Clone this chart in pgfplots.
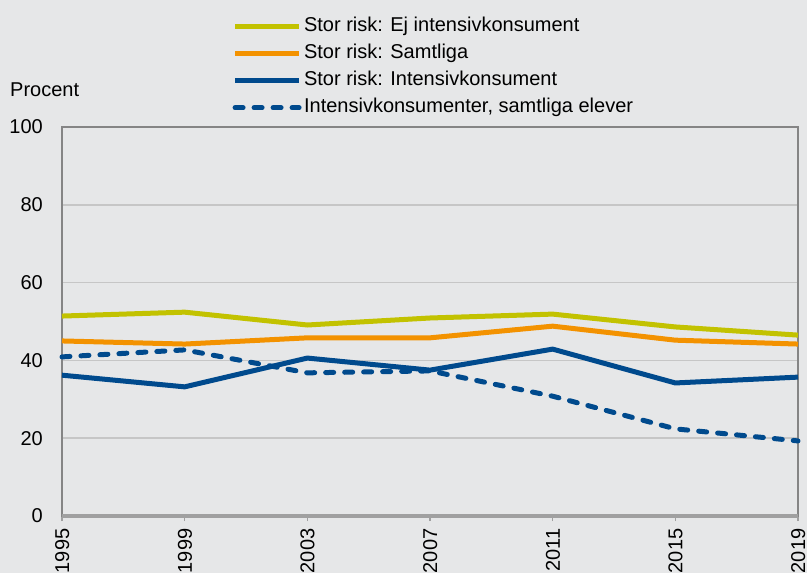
\documentclass[border=0pt]{standalone}
\usepackage{pgfplots}
\pgfplotsset{compat=1.18}
\usepackage{fontspec}
\setmainfont{Liberation Sans}
\definecolor{bg}{HTML}{E6E7E8}
\definecolor{cyel}{HTML}{C2C200}
\definecolor{cora}{HTML}{F39200}
\definecolor{cblu}{HTML}{004A8D}
\definecolor{gridc}{HTML}{C6C6C6}
\definecolor{axl}{HTML}{858585}
\definecolor{botl}{HTML}{A0A0A0}
\begin{document}
\fontsize{20bp}{24bp}\selectfont
\begin{tikzpicture}
\fill[bg] (0bp,0bp) rectangle (807bp,573bp);
\useasboundingbox (0bp,0bp) rectangle (807bp,573bp);
\node[anchor=base west, inner sep=0] at (10bp,476bp) {Procent};
\begin{axis}[
  at={(62bp,57bp)}, anchor=south west,
  scale only axis, width=736bp, height=389bp,
  xmin=1995, xmax=2019, ymin=0, ymax=100,
  xtick={1995,1999,2003,2007,2011,2015,2019},
  xticklabels={1995,1999,2003,2007,2011,2015,2019},
  ytick={0,20,40,60,80,100},
  font=\fontsize{20bp}{24bp}\selectfont,
  /pgf/number format/assume math mode=true,
  ymajorgrids, major grid style={gridc, line width=1.5bp},
  axis line style={axl, line width=1.3bp},
  xtick pos=bottom, tick align=outside,
  x tick style={botl, line width=1.5bp}, major tick length=5bp,
  y tick style={draw=none},
  xticklabel style={rotate=90, anchor=east, inner sep=0pt, text height=14.3bp, text depth=0bp, xshift=-7.5bp},
  yticklabel style={anchor=east, inner sep=0pt, xshift=-14bp},
  clip=false,
  legend style={at={(axis description cs:0.2315,1.282)}, anchor=north west,
    draw=none, fill=none, inner sep=0pt, row sep=8.5bp,
    nodes={inner xsep=2.5bp, inner ysep=0bp, text height=14bp, text depth=4.5bp},
    font=\fontsize{20bp}{24bp}\selectfont},
  legend cell align=left,
  legend image code/.code={\draw[#1] (0bp,0bp) -- (64bp,0bp);},
]
\addplot[cyel, line width=5bp] coordinates {(1995,51.4) (1999,52.4) (2003,49.1) (2007,50.9) (2011,51.9) (2015,48.6) (2019,46.5)};
\addlegendentry{Stor risk: Ej intensivkonsument}
\addplot[cora, line width=5bp] coordinates {(1995,45.0) (1999,44.2) (2003,45.8) (2007,45.8) (2011,48.8) (2015,45.2) (2019,44.2)};
\addlegendentry{Stor risk: Samtliga}
\addplot[cblu, line width=5bp] coordinates {(1995,36.2) (1999,33.2) (2003,40.6) (2007,37.5) (2011,42.9) (2015,34.2) (2019,35.7)};
\addlegendentry{Stor risk: Intensivkonsument}
\addplot[cblu, line width=5bp, line cap=round, dash pattern=on 8bp off 11bp] coordinates {(1995,40.9) (1999,42.7) (2003,36.8) (2007,37.3) (2011,30.8) (2015,22.4) (2019,19.3)};
\addlegendentry{Intensivkonsumenter, samtliga elever}
\draw[botl, line width=3bp] (rel axis cs:0,0) -- (rel axis cs:1,0);
\end{axis}
\end{tikzpicture}
\end{document}
